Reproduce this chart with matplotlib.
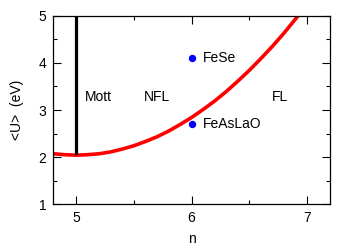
import matplotlib
matplotlib.use('Agg')
import matplotlib.pyplot as plt
from matplotlib.ticker import MultipleLocator

plt.rcParams['font.family'] = ['Liberation Sans', 'DejaVu Sans']
plt.rcParams['font.size'] = 10

# boundary curve
n_curve = [4.8, 4.9, 5.0, 5.1, 5.2, 5.3, 5.4, 5.5, 5.6, 5.7, 5.8, 5.9,
           6.0, 6.1, 6.2, 6.3, 6.4, 6.5, 6.6, 6.7, 6.8, 6.9, 7.0]
u_curve = [2.07, 2.05, 2.04, 2.05, 2.07, 2.11, 2.17, 2.24, 2.33, 2.43, 2.55, 2.69,
           2.84, 3.01, 3.19, 3.39, 3.61, 3.84, 4.09, 4.35, 4.63, 4.93, 5.24]

# Mott line
mott_n = [5.0, 5.0]
mott_u = [2.08, 5.0]

# materials
mat_names = ['FeSe', 'FeAsLaO']
mat_n = [6.0, 6.0]
mat_u = [4.1, 2.7]

# region labels
regions = ['Mott', 'NFL', 'FL']
reg_n = [5.19, 5.7, 6.77]
reg_u = [3.28, 3.28, 3.28]

fig = plt.figure(figsize=(3.54, 2.45), dpi=100)
ax = fig.add_axes([0.150, 0.167, 0.782, 0.768])

ax.plot(n_curve, u_curve, color='red', lw=2.6, clip_on=True)
ax.plot(mott_n, mott_u, color='black', lw=2.3)
ax.plot(mat_n, mat_u, 'o', color='blue', ms=4.3, mec='blue')
for name, x, y in zip(mat_names, mat_n, mat_u):
    ax.text(x + 0.1, y, name, ha='left', va='center')
for name, x, y in zip(regions, reg_n, reg_u):
    ax.text(x, y, name, ha='center', va='center')

ax.set_xlim(4.8, 7.2)
ax.set_ylim(1, 5)
ax.xaxis.set_major_locator(MultipleLocator(1))
ax.xaxis.set_minor_locator(MultipleLocator(0.5))
ax.yaxis.set_major_locator(MultipleLocator(1))
ax.yaxis.set_minor_locator(MultipleLocator(0.5))
ax.tick_params(which='both', direction='in', top=True, right=True, width=0.8)
ax.tick_params(which='major', length=6, pad=5)
ax.tick_params(which='minor', length=3)
for s in ax.spines.values():
    s.set_linewidth(0.9)

ax.set_xlabel('n', labelpad=5)
ax.set_ylabel('<U>  (eV)', labelpad=10)

plt.savefig('out.png', dpi=100)
